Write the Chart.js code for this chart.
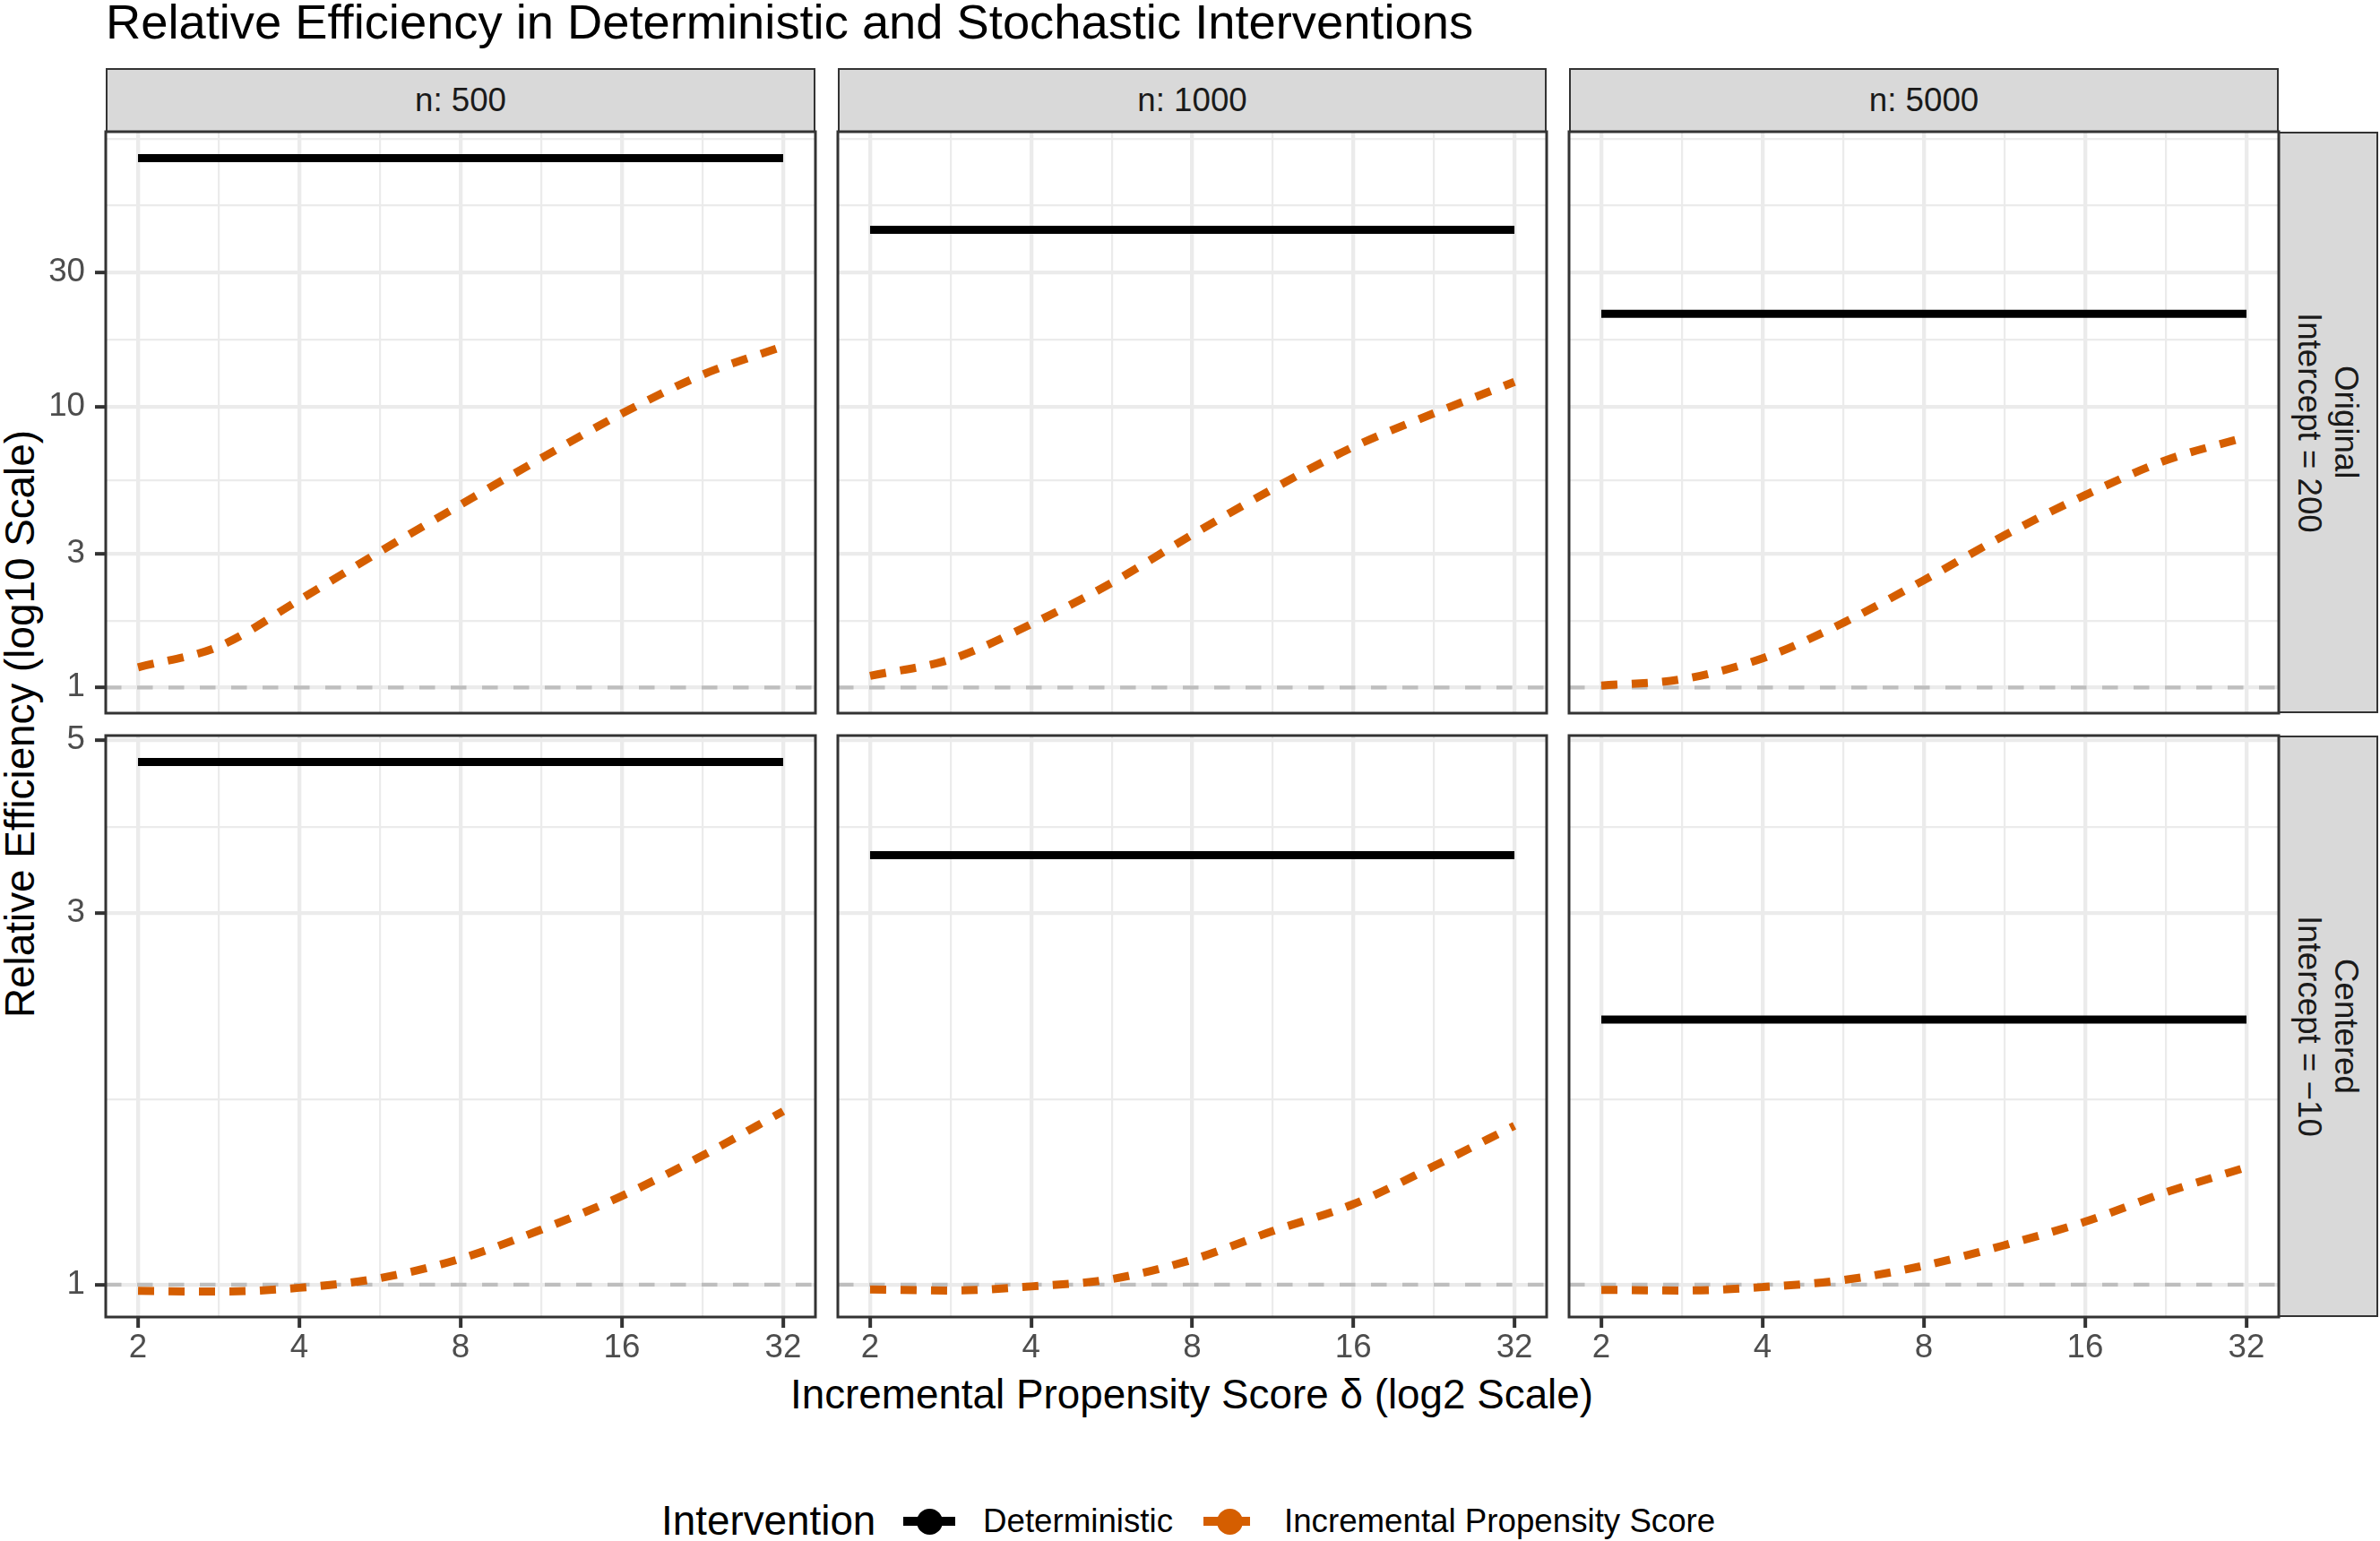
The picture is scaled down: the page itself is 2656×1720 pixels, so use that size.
<!DOCTYPE html>
<html>
<head>
<meta charset="utf-8">
<script src="https://cdn.jsdelivr.net/npm/chart.js@4.4.1/dist/chart.umd.min.js"></script>
<style>
  html, body { margin: 0; padding: 0; background: #fff; }
  body { width: 2656px; height: 1720px; position: relative; overflow: hidden;
         font-family: "Liberation Sans", Arial, Helvetica, sans-serif; }
  .txt { position: absolute; white-space: nowrap; }
  .strip { position: absolute; box-sizing: border-box; background: #D9D9D9; border: 2.5px solid #333;
           color: #1A1A1A; font-size: 36.7px; display: flex; align-items: center; justify-content: center; }
  .strip.side { writing-mode: vertical-rl; line-height: 41px; text-align: center; }
  canvas { position: absolute; }
</style>
</head>
<body>
<script>
// x values (delta) and facet labels
const deltas = [2, 2.83, 4, 5.66, 8, 11.31, 16, 22.63, 32];
const sampleSizes = ['n: 500', 'n: 1000', 'n: 5000'];
const rowLabels = [['Original', 'Intercept = 200'], ['Centered', 'Intercept = \u221210']];

// Deterministic intervention (flat across delta), one value per n
const detOriginal = [76.8, 42.6, 21.4];
const detCentered = [4.69, 3.56, 2.19];

// Incremental propensity score
const ipsOriginal500  = [1.18, 1.40, 2.05, 3.05, 4.48, 6.55, 9.45, 13.0, 16.4];
const ipsOriginal1000 = [1.10, 1.26, 1.68, 2.36, 3.50, 5.09, 7.19, 9.47, 12.25];
const ipsOriginal5000 = [1.015, 1.07, 1.27, 1.70, 2.41, 3.48, 4.84, 6.44, 7.8];
const ipsCentered500  = [0.982, 0.98, 0.991, 1.02, 1.08, 1.177, 1.30, 1.465, 1.67];
const ipsCentered1000 = [0.986, 0.983, 0.995, 1.017, 1.077, 1.172, 1.269, 1.42, 1.60];
const ipsCentered5000 = [0.985, 0.983, 0.993, 1.014, 1.058, 1.124, 1.205, 1.314, 1.415];

const refLine = 1;

// ticks and limits
const xTicks = [2, 4, 8, 16, 32];
const xMinorTicks = [2.83, 5.66, 11.31, 22.63];
const xLimits = [1.741, 36.76];
const yTicksOriginal = [1, 3, 10, 30];
const yMinorOriginal = [1.73, 5.48, 17.32, 51.96, 90];
const yLimitsOriginal = [0.81, 95.3];
const yTicksCentered = [1, 3, 5];
const yMinorCentered = [1.73, 3.87];
const yLimitsCentered = [0.909, 5.07];

const FONT = '"Liberation Sans", Arial, Helvetica, sans-serif';
const ORANGE = '#D55E00';

// panel geometry
const colL = [118, 935, 1751], colR = [910, 1726, 2543];
const rowT = [147, 821], rowB = [796, 1470];
const AXIS_W = 118, AXIS_H = 80, M = 20;

function addText(text, css) {
  const d = document.createElement('div');
  d.className = 'txt';
  d.textContent = text;
  Object.assign(d.style, css);
  document.body.appendChild(d);
  return d;
}

// title, axis titles
addText('Relative Efficiency in Deterministic and Stochastic Interventions',
  { left: '118px', top: '-3px', fontSize: '54.3px', lineHeight: '55px', color: '#000' });
addText('Incremental Propensity Score \u03b4 (log2 Scale)',
  { left: '330px', width: '2000px', textAlign: 'center', top: '1532px', height: '50px',
    fontSize: '45.8px', lineHeight: '50px', color: '#000' });
addText('Relative Efficiency (log10 Scale)',
  { left: (23 - 700) + 'px', width: '1400px', textAlign: 'center', top: (808 - 25) + 'px', height: '50px',
    fontSize: '45.8px', lineHeight: '50px', color: '#000', transform: 'rotate(-90deg)' });

// strips
sampleSizes.forEach((s, c) => {
  const d = document.createElement('div');
  d.className = 'strip';
  d.textContent = s;
  Object.assign(d.style, { left: colL[c] + 'px', top: '76px', width: (colR[c] - colL[c]) + 'px', height: '72px' });
  document.body.appendChild(d);
});
rowLabels.forEach((lines, r) => {
  const d = document.createElement('div');
  d.className = 'strip side';
  d.innerHTML = '<span>' + lines.join('<br>') + '</span>';
  Object.assign(d.style, { left: '2542px', top: rowT[r] + 'px', width: '112px', height: (rowB[r] - rowT[r]) + 'px' });
  document.body.appendChild(d);
});

// legend
addText('Intervention', { left: '738px', top: '1673px', height: '50px', fontSize: '45.8px', lineHeight: '50px', color: '#000' });
addText('Deterministic', { left: '1097px', top: '1678px', height: '40px', fontSize: '36.7px', lineHeight: '40px', color: '#000' });
addText('Incremental Propensity Score', { left: '1433px', top: '1678px', height: '40px', fontSize: '36.7px', lineHeight: '40px', color: '#000' });
function legendKey(left, color, dashed) {
  const line = document.createElement('div');
  Object.assign(line.style, { position: 'absolute', left: left + 'px', top: (1698 - 5) + 'px', width: '58px', height: '10px',
    background: dashed ? `repeating-linear-gradient(to right, ${color} 0 18px, transparent 18px 34px)` : color });
  const dot = document.createElement('div');
  Object.assign(dot.style, { position: 'absolute', left: (left + 29 - 14.5) + 'px', top: (1698 - 14.5) + 'px',
    width: '29px', height: '29px', borderRadius: '50%', background: color });
  document.body.appendChild(line);
  document.body.appendChild(dot);
}
legendKey(1008, '#000000', false);
legendKey(1343, ORANGE, true);

function tickList(major, minor) {
  return major.map(v => ({ value: v, minor: false }))
    .concat(minor.map(v => ({ value: v, minor: true })))
    .sort((a, b) => a.value - b.value);
}

function logAxis(limits, major, minor, show, horizontal) {
  return {
    type: 'logarithmic',
    position: horizontal ? 'bottom' : 'left',
    min: limits[0],
    max: limits[1],
    afterBuildTicks: s => { s.ticks = tickList(major, minor); },
    afterFit: s => {
      if (horizontal) {
        s.height = show ? AXIS_H : 0;
        s.paddingLeft = 0; s.paddingRight = 0;
      } else {
        s.width = show ? AXIS_W : 0;
        s.paddingTop = 0; s.paddingBottom = 0;
      }
    },
    border: { display: false },
    grid: {
      color: '#EBEBEB',
      lineWidth: c => (c.tick && c.tick.minor) ? 2.2 : 4.3,
      drawTicks: show,
      tickLength: 12,
      tickWidth: 4,
      tickColor: c => (c.tick && c.tick.minor) ? 'rgba(0,0,0,0)' : '#333333'
    },
    ticks: {
      display: show,
      autoSkip: false,
      maxRotation: 0,
      minRotation: 0,
      padding: horizontal ? 1 : 11,
      color: '#4D4D4D',
      font: { family: FONT, size: 36.7 },
      callback: (v, i, ticks) => ticks[i].minor ? '' : String(v)
    }
  };
}

// reference line at 1 and the panel frame
const panelFrame = {
  id: 'panelFrame',
  beforeDatasetsDraw(chart) {
    const { ctx, chartArea: a, scales: { y } } = chart;
    const py = y.getPixelForValue(refLine);
    ctx.save();
    ctx.strokeStyle = '#BEBEBE';
    ctx.lineWidth = 4.3;
    ctx.setLineDash([17.5, 17.5]);
    ctx.beginPath();
    ctx.moveTo(a.left, py);
    ctx.lineTo(a.right, py);
    ctx.stroke();
    ctx.restore();
  },
  afterDraw(chart) {
    const { ctx, chartArea: a } = chart;
    ctx.save();
    ctx.strokeStyle = '#333333';
    ctx.lineWidth = 3;
    ctx.strokeRect(a.left, a.top, a.right - a.left, a.bottom - a.top);
    ctx.restore();
  }
};

const panels = [
  { r: 0, c: 0, det: detOriginal[0], ips: ipsOriginal500 },
  { r: 0, c: 1, det: detOriginal[1], ips: ipsOriginal1000 },
  { r: 0, c: 2, det: detOriginal[2], ips: ipsOriginal5000 },
  { r: 1, c: 0, det: detCentered[0], ips: ipsCentered500 },
  { r: 1, c: 1, det: detCentered[1], ips: ipsCentered1000 },
  { r: 1, c: 2, det: detCentered[2], ips: ipsCentered5000 }
];

panels.forEach(p => {
  const showY = p.c === 0, showX = p.r === 1;
  const axW = showY ? AXIS_W : 0, axH = showX ? AXIS_H : 0;
  const w = colR[p.c] - colL[p.c] + axW + 2 * M;
  const h = rowB[p.r] - rowT[p.r] + axH + 2 * M;
  const canvas = document.createElement('canvas');
  canvas.width = w; canvas.height = h;
  Object.assign(canvas.style, { left: (colL[p.c] - axW - M) + 'px', top: (rowT[p.r] - M) + 'px',
    width: w + 'px', height: h + 'px' });
  document.body.appendChild(canvas);

  const yLim = p.r === 0 ? yLimitsOriginal : yLimitsCentered;
  const yMaj = p.r === 0 ? yTicksOriginal : yTicksCentered;
  const yMin = p.r === 0 ? yMinorOriginal : yMinorCentered;

  new Chart(canvas, {
    type: 'line',
    data: {
      datasets: [
        {
          label: 'Deterministic',
          data: deltas.map(d => ({ x: d, y: p.det })),
          borderColor: '#000000',
          borderWidth: 9,
          pointRadius: 0,
          fill: false
        },
        {
          label: 'Incremental Propensity Score',
          data: deltas.map((d, i) => ({ x: d, y: p.ips[i] })),
          borderColor: ORANGE,
          borderWidth: 9,
          borderDash: [18, 16],
          cubicInterpolationMode: 'monotone',
          pointRadius: 0,
          fill: false
        }
      ]
    },
    options: {
      responsive: false,
      maintainAspectRatio: false,
      animation: false,
      events: [],
      layout: { padding: { left: M, right: M, top: M, bottom: M } },
      plugins: { legend: { display: false }, tooltip: { enabled: false } },
      scales: {
        x: logAxis(xLimits, xTicks, xMinorTicks, showX, true),
        y: logAxis(yLim, yMaj, yMin, showY, false)
      }
    },
    plugins: [panelFrame]
  });
});
</script>
</body>
</html>
